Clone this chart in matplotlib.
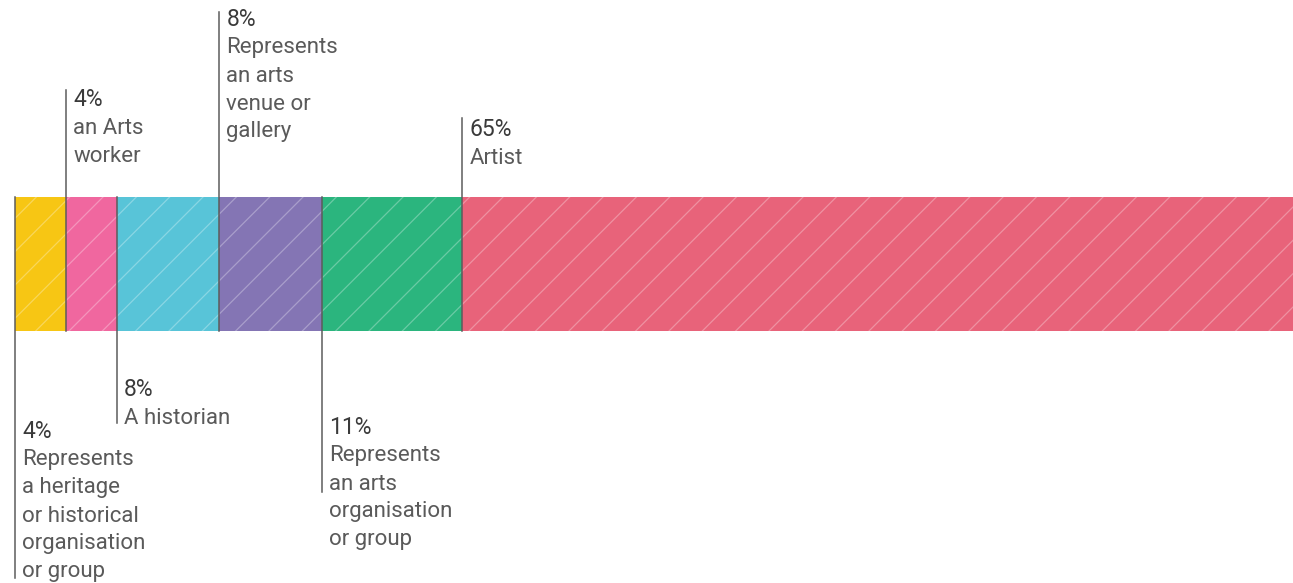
import matplotlib
matplotlib.use("Agg")
import matplotlib.pyplot as plt
import matplotlib.transforms as mtransforms
import numpy as np

# data
categories = ["Represents\na heritage\nor historical\norganisation\nor group",
              "an Arts\nworker",
              "A historian",
              "Represents\nan arts\nvenue or\ngallery",
              "Represents\nan arts\norganisation\nor group",
              "Artist"]
shares = [4, 4, 8, 8, 11, 65]
colors = ["#F7C614", "#F0679F", "#58C4D8", "#8475B4", "#2BB57E", "#E8637A"]

# label layout (pixel rows), 'up' labels sit above the bar
side = ["down", "up", "down", "up", "down", "up"]
label_top = [432, 100, 390, 20, 428, 130]   # centre of the percent line
line_end = [578, 90, 423, 12, 492, 118]     # far end of each leader line
line_step = 28

plt.rcParams['font.family'] = ['Roboto', 'DejaVu Sans']

W, H = 1293, 583
fig = plt.figure(figsize=(W / 100, H / 100), dpi=100)
ax = fig.add_axes([15 / W, 0, 1 - 15 / W, 1])
ax.set_xlim(0, 100)
ax.set_ylim(H, 0)
ax.axis('off')

bar_y, bar_h = 264, 134
bar_top, bar_bot = bar_y - bar_h / 2, bar_y + bar_h / 2

plt.rcParams['hatch.linewidth'] = 0.9
lefts = np.concatenate([[0], np.cumsum(shares)[:-1]])
for left, w, c in zip(lefts, shares, colors):
    rgb = np.array(matplotlib.colors.to_rgb(c))
    hatch_col = rgb + (1 - rgb) * 0.3
    ax.barh(bar_y, w, left=left, height=bar_h, color=c,
            edgecolor=hatch_col, linewidth=0, hatch='/')

off = mtransforms.offset_copy(ax.transData, fig=fig, x=7, y=0, units='dots')
for left, pct, cat, s, ty, le in zip(lefts, shares, categories, side, label_top, line_end):
    if s == "up":
        ax.plot([left, left], [le, bar_bot], color="#5c5c5c", lw=1.1, clip_on=False)
    else:
        ax.plot([left, left], [bar_top, le], color="#5c5c5c", lw=1.1, clip_on=False)
    ax.text(left, ty, f"{pct}%", transform=off, ha='left', va='center',
            fontsize=16.5, color="#3a3a3a")
    for i, line in enumerate(cat.split("\n")):
        ax.text(left, ty + (i + 1) * line_step, line, transform=off, ha='left',
                va='center', fontsize=16, color="#5a5a5a")

fig.savefig("out.png", dpi=100)
